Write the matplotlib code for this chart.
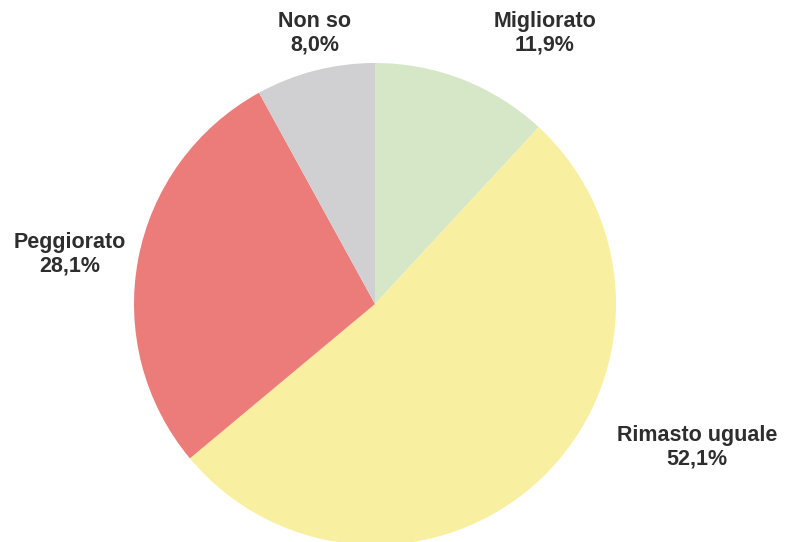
import matplotlib
matplotlib.use("Agg")
import matplotlib.pyplot as plt

categories = ["Migliorato", "Rimasto uguale", "Peggiorato", "Non so"]
values = [11.9, 52.1, 28.1, 8.0]
colors = ["#d6e7c8", "#f8f0a0", "#ec7c79", "#d0d0d2"]

# label anchor positions in pixels (x, y from top)
label_pos = [(545, 33), (697, 447), (70, 254), (315, 33)]

W, H = 785, 542
fig = plt.figure(figsize=(W / 100, H / 100), dpi=100)
ax = fig.add_axes([0, 0, 1, 1])
ax.set_xlim(0, W)
ax.set_ylim(0, H)
ax.set_aspect("equal")
ax.axis("off")

ax.pie(values, colors=colors, startangle=90, counterclock=False,
       center=(375, H - 304), radius=241,
       wedgeprops=dict(linewidth=0))
ax.set_xlim(0, W)
ax.set_ylim(0, H)

for cat, val, (px, py) in zip(categories, values, label_pos):
    txt = f"{cat}\n{val:.1f}%".replace(".", ",")
    ax.text(px, H - py, txt, ha="center", va="center", fontsize=15.5,
            fontweight="bold", color="#2e2e2e", family="Liberation Sans",
            linespacing=1.15)

fig.savefig("out.png", dpi=100)
